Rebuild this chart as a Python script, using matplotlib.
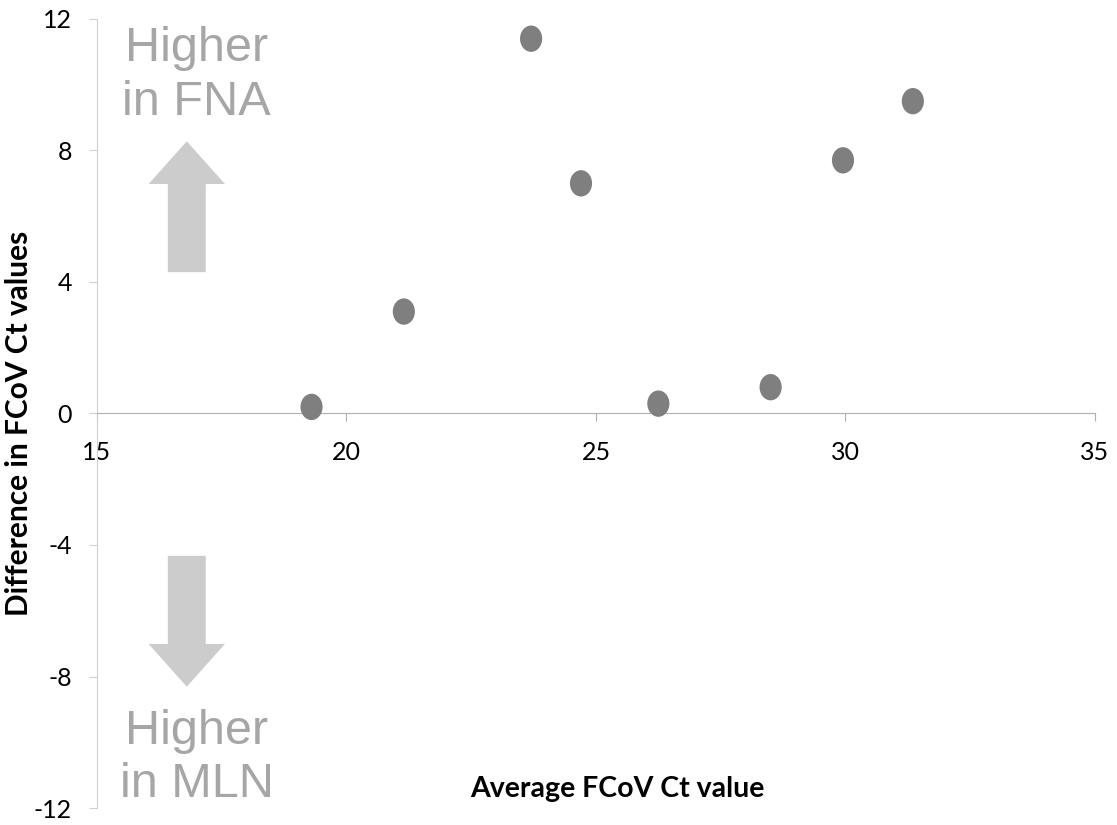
import matplotlib
matplotlib.use('Agg')
import matplotlib.pyplot as plt
from matplotlib.patches import FancyArrow
from matplotlib.path import Path

plt.rcParams['axes.unicode_minus'] = False

# Datos
ct_promedio = [19.3, 21.15, 23.7, 24.7, 26.25, 28.5, 29.95, 31.35]
diferencia_ct = [0.2, 3.1, 11.4, 7.0, 0.3, 0.8, 7.7, 9.5]

x_ticks = [15, 20, 25, 30, 35]
y_ticks = [-12, -8, -4, 0, 4, 8, 12]

# Marcador algo ovalado como en el original
circulo = Path.unit_circle()
ovalo = Path(circulo.vertices * [0.84, 1.0], circulo.codes)

fig = plt.figure(figsize=(11.17, 8.25), dpi=100)
ax = fig.add_axes([0.0868, 0.0206, 0.8935, 0.9564])

ax.scatter(ct_promedio, diferencia_ct, s=360, marker=ovalo, color='#7f7f7f',
           edgecolors='none', zorder=3)

ax.set_xlim(15, 35)
ax.set_ylim(-12, 12)
ax.set_xticks(x_ticks)
ax.set_yticks(y_ticks)

ax.spines['top'].set_visible(False)
ax.spines['right'].set_visible(False)
ax.spines['bottom'].set_position(('data', 0))
ax.spines['bottom'].set_color('#b0b0b0')
ax.spines['left'].set_color('#d0d0d0')

ax.tick_params(axis='x', direction='out', length=6, color='#b0b0b0', pad=14,
               labelsize=18, labelcolor='black')
ax.tick_params(axis='y', direction='out', length=6, color='#d0d0d0', pad=12,
               labelsize=18, labelcolor='black')
for lab in ax.get_xticklabels() + ax.get_yticklabels():
    lab.set_fontfamily('Lato')

ax.set_ylabel('Difference in FCoV Ct values', fontsize=21.5, fontweight='bold',
              fontfamily='Lato')
ax.yaxis.set_label_coords(-0.064, 0.488)
ax.set_xlabel('Average FCoV Ct value', fontsize=20.5, fontweight='bold', fontfamily='Lato')
ax.xaxis.set_label_coords(0.521, 0.041)
ax.xaxis.label.set_va('top')

# Flechas y textos indicativos
ax.add_patch(FancyArrow(16.8, 4.3, 0, 3.98, width=0.76, head_width=1.53,
                        head_length=1.3, length_includes_head=True,
                        color='#cccccc', lw=0))
ax.add_patch(FancyArrow(16.8, -4.33, 0, -3.98, width=0.76, head_width=1.53,
                        head_length=1.3, length_includes_head=True,
                        color='#cccccc', lw=0))

ax.text(17.0, 11.78, 'Higher\nin FNA', ha='center', va='top', fontsize=35,
        color='#a6a6a6', fontfamily='Liberation Sans', linespacing=1.24)
ax.text(17.0, -11.97, 'Higher\nin MLN', ha='center', va='bottom', fontsize=35,
        color='#a6a6a6', fontfamily='Liberation Sans', linespacing=1.24)

fig.savefig('out.png', dpi=100, facecolor='white')
